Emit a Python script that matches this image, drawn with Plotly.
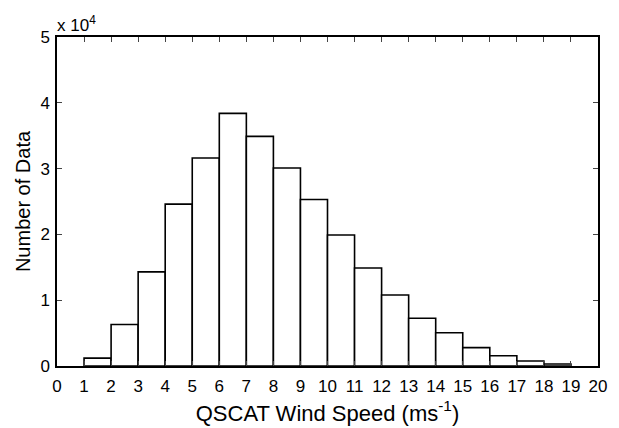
import plotly.graph_objects as go

bin_left = list(range(1, 19))
counts = [1200, 6300, 14300, 24600, 31600, 38400, 34900, 30100, 25300,
          19900, 14900, 10800, 7250, 5050, 2800, 1550, 750, 300]
x_ticks = list(range(0, 21))
y_ticks = [0, 10000, 20000, 30000, 40000, 50000]
y_labels = ["0", "1", "2", "3", "4", "5"]

font = "Liberation Sans, Arial, Helvetica, sans-serif"

fig = go.Figure(go.Bar(
    x=[b + 0.5 for b in bin_left], y=counts, width=1,
    marker=dict(color="white", line=dict(color="black", width=1.6)),
))

fig.update_layout(
    width=619, height=428, plot_bgcolor="white", paper_bgcolor="white",
    margin=dict(l=57, r=21, t=37, b=62), showlegend=False,
    font=dict(family=font, size=17, color="black"),
    xaxis=dict(range=[0, 20], tickvals=x_ticks, ticks="inside", ticklen=5,
               showline=True, mirror="ticks", linecolor="black", linewidth=1.5,
               showgrid=False, zeroline=False, tickfont=dict(size=17),
               ticklabelstandoff=4, automargin=False,
               title=dict(text="QSCAT Wind Speed (ms<sup>-1</sup>)", font=dict(size=22), standoff=10)),
    yaxis=dict(range=[0, 50000], tickvals=y_ticks, ticktext=y_labels, ticks="inside", ticklen=5,
               showline=True, mirror="ticks", linecolor="black", linewidth=1.5,
               showgrid=False, zeroline=False, tickfont=dict(size=17),
               ticklabelstandoff=2, automargin=False,
               title=dict(text="Number of Data", font=dict(size=20), standoff=4)),
    annotations=[dict(text="x 10<sup>4</sup>", x=0, y=1, xref="paper", yref="paper",
                      xanchor="left", yanchor="bottom", showarrow=False,
                      font=dict(size=17), yshift=0, xshift=-2)],
)

fig.write_html("out.html")
